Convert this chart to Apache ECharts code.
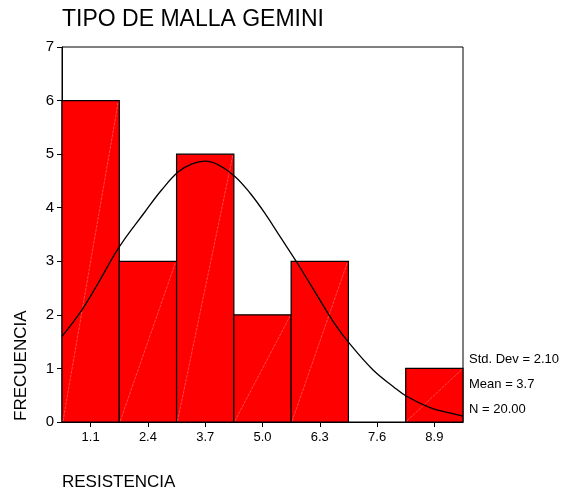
<!DOCTYPE html>
<html>
<head>
<meta charset="utf-8">
<script src="https://cdn.jsdelivr.net/npm/echarts@6/dist/echarts.min.js"></script>
<style>html,body{margin:0;padding:0;background:#fff}#c{width:578px;height:496px}</style>
</head>
<body>
<div id="c"></div>
<script>
var categories = ['1.1', '2.4', '3.7', '5.0', '6.3', '7.6', '8.9'];
var frequencies = [6, 3, 5, 2, 3, 0, 1];
var yTicks = [0, 1, 2, 3, 4, 5, 6, 7];
var curveX = [0.45, 0.90, 1.27, 1.75, 2.33, 2.71, 3.09, 3.40, 3.70, 4.00, 4.38, 4.72, 5.06, 5.40, 5.81, 6.30, 6.64, 6.94, 7.51, 7.97, 8.27, 8.80, 9.25, 9.55];
var curveY = [1.60, 2.09, 2.59, 3.27, 3.92, 4.33, 4.67, 4.82, 4.87, 4.80, 4.58, 4.27, 3.89, 3.46, 2.94, 2.28, 1.83, 1.50, 0.97, 0.66, 0.48, 0.27, 0.17, 0.11];
var statsLines = ['Std. Dev = 2.10', 'Mean = 3.7', 'N = 20.00'];
var titleText = 'TIPO DE MALLA GEMINI';
var xName = 'RESISTENCIA';
var yName = 'FRECUENCIA';

var FONT = '"Liberation Sans", Arial, sans-serif';
var chart = echarts.init(document.getElementById('c'), null, {renderer: 'canvas'});

var barData = frequencies.map(function (v, i) { return [i, v]; });
var curveData = curveX.map(function (x, i) { return [x, curveY[i]]; });

chart.setOption({
  animation: false,
  backgroundColor: '#ffffff',
  grid: {left: 62, right: 115, top: 47, bottom: 74, show: true, borderColor: '#000', borderWidth: 1, backgroundColor: 'transparent'},
  xAxis: [{
    type: 'category', data: categories, boundaryGap: true,
    axisLine: {show: true, lineStyle: {color: '#000', width: 1}},
    axisTick: {show: true, alignWithLabel: true, length: 5, lineStyle: {color: '#000'}},
    axisLabel: {color: '#000', fontSize: 13, fontFamily: FONT, margin: 9},
    splitLine: {show: false}
  }, {
    type: 'value', min: 0.45, max: 9.55, show: false, position: 'bottom'
  }],
  yAxis: {
    type: 'value', min: yTicks[0], max: yTicks[yTicks.length - 1], interval: 1,
    axisLine: {show: true, lineStyle: {color: '#000', width: 1}},
    axisTick: {show: true, length: 5, lineStyle: {color: '#000'}},
    axisLabel: {color: '#000', fontSize: 15, fontFamily: FONT, margin: 8},
    splitLine: {show: false}
  },
  series: [{
    type: 'custom',
    xAxisIndex: 0,
    data: barData,
    renderItem: function (params, api) {
      var v = api.value(1);
      if (!v) return null;
      var top = api.coord([api.value(0), v]);
      var bot = api.coord([api.value(0), 0]);
      var w = api.size([1, 0])[0];
      var x0 = top[0] - w / 2, x1 = top[0] + w / 2;
      return {
        type: 'group',
        children: [{
          type: 'rect',
          shape: {x: x0, y: top[1], width: w, height: bot[1] - top[1]},
          style: {fill: '#ff0000', stroke: '#000', lineWidth: 1.2}
        }, {
          type: 'line',
          shape: {x1: x0 + 1, y1: bot[1] - 1, x2: x1 - 1, y2: top[1] + 1},
          style: {stroke: 'rgba(255,170,170,0.6)', lineWidth: 0.7, lineDash: [3, 1]}
        }]
      };
    },
    z: 2
  }, {
    type: 'line',
    xAxisIndex: 1,
    data: curveData,
    smooth: 0.4,
    showSymbol: false,
    lineStyle: {color: '#000', width: 1.3},
    z: 5
  }],
  graphic: [
    {type: 'text', left: 62, top: 8, style: {text: titleText, font: '23px ' + FONT, fill: '#000'}},
    {type: 'text', x: 62, y: 482, style: {text: xName, font: '17px ' + FONT, fill: '#000', textVerticalAlign: 'middle'}},
    {type: 'text', x: 21, y: 421, rotation: Math.PI / 2, style: {text: yName, font: '17px ' + FONT, fill: '#000', textAlign: 'left', textVerticalAlign: 'middle'}},
    {type: 'text', x: 469, y: 359, style: {text: statsLines[0], font: '13px ' + FONT, fill: '#000', textVerticalAlign: 'middle'}},
    {type: 'text', x: 469, y: 384, style: {text: statsLines[1], font: '13px ' + FONT, fill: '#000', textVerticalAlign: 'middle'}},
    {type: 'text', x: 469, y: 409, style: {text: statsLines[2], font: '13px ' + FONT, fill: '#000', textVerticalAlign: 'middle'}}
  ]
});
</script>
</body>
</html>
